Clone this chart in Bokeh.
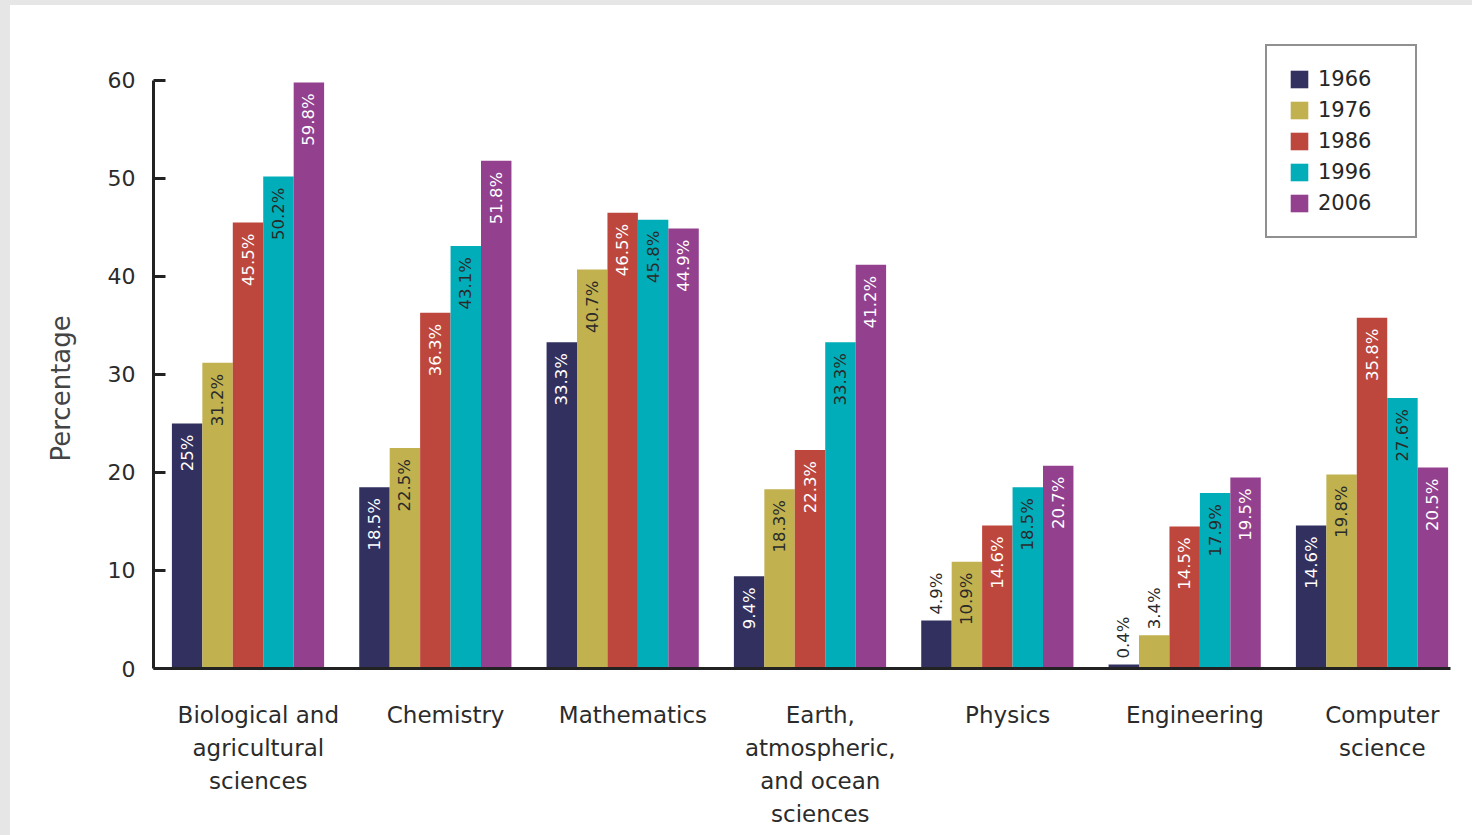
import numpy as np
from bokeh.plotting import figure
from bokeh.layouts import column
from bokeh.models import (Range1d, FixedTicker, ColumnDataSource, Legend, Title)
from bokeh.core.properties import value
from bokeh.embed import file_html
from bokeh.resources import INLINE

categories = ["Biological and\nagricultural\nsciences", "Chemistry", "Mathematics",
              "Earth,\natmospheric,\nand ocean\nsciences", "Physics", "Engineering",
              "Computer\nscience"]
years = ["1966", "1976", "1986", "1996", "2006"]
v1966 = [25.0, 18.5, 33.3, 9.4, 4.9, 0.4, 14.6]
v1976 = [31.2, 22.5, 40.7, 18.3, 10.9, 3.4, 19.8]
v1986 = [45.5, 36.3, 46.5, 22.3, 14.6, 14.5, 35.8]
v1996 = [50.2, 43.1, 45.8, 33.3, 18.5, 17.9, 27.6]
v2006 = [59.8, 51.8, 44.9, 41.2, 20.7, 19.5, 20.5]
series = [v1966, v1976, v1986, v1996, v2006]
y_ticks = [0, 10, 20, 30, 40, 50, 60]

colors = ["#31305f", "#c1b14f", "#bd473d", "#00adb8", "#93418f"]
label_colors = ["white", "#2a2a2a", "white", "#2a2a2a", "white"]
FONT = "DejaVu Sans"

bar_w = 0.1625
offsets = [(-2 + j) * bar_w for j in range(5)]
label_shift = 0.055

p = figure(width=1462, height=830, output_backend="svg", toolbar_location=None,
           x_range=Range1d(-0.5045, 6.419), y_range=Range1d(0, 64.18),
           min_border_left=143, min_border_right=22, min_border_top=34,
           min_border_bottom=167, margin=(5, 0, 0, 10),
           styles={"background-color": "white"})
p.outline_line_color = None
p.xgrid.visible = False
p.ygrid.visible = False
p.border_fill_color = "white"
p.background_fill_color = "white"

idx = np.arange(len(categories))
legend_items = []
for j, (yr, vals) in enumerate(zip(years, series)):
    vals = np.array(vals)
    xs = idx + offsets[j]
    src = ColumnDataSource(dict(x=xs, top=vals))
    r = p.vbar(x="x", top="top", width=bar_w, source=src, fill_color=colors[j],
               line_color=None)
    legend_items.append((yr, [r]))
    inside = vals >= 8
    txt = [f"{v:g}%" for v in vals]
    src_in = ColumnDataSource(dict(x=xs[inside], y=vals[inside],
                                   t=[t for t, k in zip(txt, inside) if k]))
    p.text(x="x", y="y", text="t", source=src_in, angle=np.pi / 2,
           text_align="right", text_baseline="middle", y_offset=11,
           text_color=label_colors[j], text_font=value(FONT), text_font_size="16.5px")
    out = ~inside
    if out.any():
        src_out = ColumnDataSource(dict(x=xs[out], y=vals[out],
                                        t=[t for t, k in zip(txt, out) if k]))
        p.text(x="x", y="y", text="t", source=src_out, angle=np.pi / 2,
               text_align="left", text_baseline="middle", y_offset=-6,
               text_color="#2a2a2a", text_font=value(FONT), text_font_size="16.5px")

legend = Legend(items=legend_items, location=(1112, 430))
legend.padding = 21
legend.glyph_width = 22
legend.glyph_height = 22
legend.label_height = 22
legend.label_width = 76
legend.label_standoff = 8
legend.spacing = 7
legend.margin = 0
legend.border_line_color = "#222222"
legend.border_line_width = 2
legend.background_fill_color = "white"
legend.background_fill_alpha = 1
legend.label_text_font = FONT
legend.label_text_font_size = "21px"
legend.label_text_color = "#262626"
p.add_layout(legend)

ya = p.yaxis[0]
ya.ticker = FixedTicker(ticks=y_ticks)
ya.bounds = (0, 60)
ya.minor_tick_line_color = None
ya.major_tick_in = 12
ya.major_tick_out = 0
ya.major_tick_line_width = 3
ya.major_tick_line_color = "#222222"
ya.axis_line_width = 3
ya.axis_line_color = "#222222"
ya.major_label_text_font = FONT
ya.major_label_text_font_size = "22px"
ya.major_label_text_color = "#2b2b2b"
ya.major_label_standoff = 18

ytitle = Title(text="Percentage", align="left", offset=207, standoff=58,
               text_font=FONT, text_font_size="26px", text_font_style="normal",
               text_color="#444444")
p.add_layout(ytitle, "left")

xa = p.xaxis[0]
tick_pos = [float(i) + label_shift for i in range(len(categories))]
xa.ticker = FixedTicker(ticks=tick_pos)
xa.major_label_overrides = {t: c for t, c in zip(tick_pos, categories)}
xa.minor_tick_line_color = None
xa.major_tick_in = 0
xa.major_tick_out = 0
xa.axis_line_width = 3
xa.axis_line_color = "#222222"
xa.major_label_text_font = FONT
xa.major_label_text_font_size = "23px"
xa.major_label_text_color = "#2b2b2b"
xa.major_label_text_line_height = 1.28
xa.major_label_standoff = 33

layout = column(p, styles={"background-color": "#e6e6e6"})
open("out.html", "w").write(file_html(layout, INLINE))
